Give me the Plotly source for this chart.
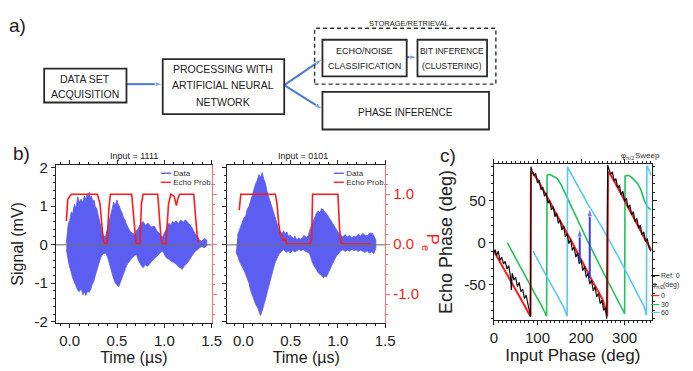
import plotly.graph_objects as go

W, H = 693, 371

# ---------------- panel b, left: Input = 1111 ----------------
# (time in µs, signal in mV) along the top and bottom edges of the recorded trace
sig1_upper = [
    (-0.035, 0.05), (-0.025, 0.35), (-0.015, 0.55), (0.0, 0.62), (0.017, 0.85), (0.03, 0.78),
    (0.05, 1.05), (0.065, 0.95), (0.086, 1.24), (0.10, 1.10), (0.12, 1.18), (0.135, 1.08),
    (0.155, 1.26), (0.17, 1.18), (0.185, 1.32), (0.195, 1.22), (0.207, 1.36), (0.22, 1.20),
    (0.23, 1.26), (0.245, 1.12), (0.258, 1.16), (0.27, 0.98), (0.285, 0.95), (0.30, 0.78),
    (0.31, 0.66), (0.325, 0.50), (0.344, 0.32), (0.36, 0.22), (0.379, 0.20), (0.395, 0.38),
    (0.413, 0.55), (0.425, 0.70), (0.44, 0.88), (0.452, 0.95), (0.465, 1.10), (0.48, 1.02),
    (0.50, 1.16), (0.512, 1.05), (0.525, 1.00), (0.538, 0.90), (0.551, 0.84), (0.568, 0.70),
    (0.585, 0.64), (0.60, 0.52), (0.62, 0.42), (0.64, 0.34), (0.66, 0.30), (0.689, 0.26),
    (0.705, 0.36), (0.724, 0.42), (0.745, 0.52), (0.775, 0.60), (0.80, 0.50), (0.827, 0.56),
    (0.86, 0.46), (0.896, 0.48), (0.92, 0.36), (0.948, 0.30), (0.965, 0.22), (0.982, 0.20),
    (1.00, 0.30), (1.017, 0.40), (1.034, 0.46), (1.05, 0.56), (1.07, 0.50), (1.085, 0.60),
    (1.103, 0.56), (1.125, 0.62), (1.15, 0.55), (1.172, 0.64), (1.20, 0.58), (1.22, 0.64),
    (1.24, 0.60), (1.265, 0.52), (1.293, 0.44), (1.32, 0.30), (1.345, 0.20), (1.37, 0.12),
    (1.396, 0.08), (1.42, 0.16), (1.448, 0.12),
]
sig1_lower = [
    (-0.035, -0.12), (-0.02, -0.35), (0.0, -0.59), (0.015, -0.70), (0.03, -0.85), (0.052, -1.00),
    (0.07, -1.10), (0.085, -1.18), (0.103, -1.22), (0.12, -1.14), (0.14, -1.30), (0.155, -1.22),
    (0.172, -1.32), (0.19, -1.20), (0.205, -1.24), (0.224, -1.15), (0.24, -1.02), (0.255, -0.95),
    (0.276, -0.76), (0.29, -0.60), (0.305, -0.50), (0.327, -0.34), (0.35, -0.24), (0.379, -0.22),
    (0.40, -0.32), (0.415, -0.44), (0.43, -0.55), (0.445, -0.72), (0.46, -0.85), (0.482, -1.00),
    (0.50, -1.04), (0.517, -1.10), (0.535, -0.95), (0.55, -0.88), (0.568, -0.76), (0.59, -0.62),
    (0.61, -0.50), (0.637, -0.42), (0.66, -0.34), (0.685, -0.28), (0.706, -0.26), (0.725, -0.40),
    (0.75, -0.52), (0.775, -0.60), (0.80, -0.52), (0.825, -0.56), (0.844, -0.50), (0.87, -0.42),
    (0.89, -0.38), (0.913, -0.34), (0.94, -0.26), (0.96, -0.20), (0.982, -0.17), (1.00, -0.26),
    (1.02, -0.34), (1.051, -0.38), (1.075, -0.44), (1.10, -0.46), (1.12, -0.50), (1.145, -0.56),
    (1.165, -0.60), (1.189, -0.64), (1.21, -0.55), (1.235, -0.50), (1.258, -0.42), (1.28, -0.32),
    (1.305, -0.24), (1.327, -0.17), (1.35, -0.12), (1.375, -0.08), (1.396, -0.05), (1.42, -0.08),
    (1.448, -0.03),
]
t1_pe = [-0.035, -0.02, 0.017, 0.293, 0.32, 0.337, 0.355, 0.379, 0.396, 0.413, 0.43, 0.655, 0.679,
         0.7, 0.724, 0.741, 0.758, 0.775, 0.93, 0.948, 0.965, 0.982, 1.017, 1.044, 1.068, 1.103,
         1.127, 1.144, 1.161, 1.31, 1.327, 1.345, 1.362]
pe1 = [0.46, 0.90, 1.00, 1.00, 0.81, 0.42, 0.06, 0.00, 0.03, 0.68, 1.00, 1.00, 0.42,
       0.03, 0.00, 0.00, 0.80, 1.00, 1.00, 0.62, 0.10, 0.00, 0.01, 0.80, 1.00, 0.96,
       0.77, 0.92, 1.00, 1.00, 0.68, 0.20, 0.04]

# ---------------- panel b, right: Input = 0101 ----------------
sig2_upper = [
    (-0.063, 0.24), (-0.045, 0.36), (-0.028, 0.49), (-0.01, 0.56), (0.005, 0.70), (0.024, 0.74),
    (0.04, 0.92), (0.06, 1.00), (0.077, 1.16), (0.095, 1.28), (0.112, 1.42), (0.129, 1.58),
    (0.145, 1.66), (0.164, 1.82), (0.18, 1.74), (0.199, 1.87), (0.215, 1.70), (0.234, 1.58),
    (0.25, 1.38), (0.268, 1.24), (0.285, 1.08), (0.30, 0.98), (0.32, 0.83), (0.34, 0.66),
    (0.355, 0.52), (0.373, 0.41), (0.39, 0.34), (0.408, 0.29), (0.425, 0.36), (0.44, 0.26),
    (0.46, 0.33), (0.475, 0.22), (0.49, 0.25), (0.512, 0.20), (0.53, 0.16), (0.545, 0.22),
    (0.565, 0.12), (0.585, 0.18), (0.60, 0.14), (0.617, 0.16), (0.64, 0.24), (0.665, 0.18),
    (0.687, 0.24), (0.705, 0.40), (0.72, 0.50), (0.739, 0.62), (0.755, 0.70), (0.77, 0.80),
    (0.791, 0.87), (0.81, 0.82), (0.825, 0.93), (0.844, 0.91), (0.86, 0.84), (0.88, 0.80),
    (0.896, 0.74), (0.915, 0.66), (0.93, 0.60), (0.948, 0.54), (0.965, 0.44), (0.983, 0.38),
    (1.0, 0.33), (1.02, 0.26), (1.035, 0.22), (1.053, 0.20), (1.075, 0.26), (1.10, 0.20),
    (1.123, 0.24), (1.145, 0.18), (1.17, 0.22), (1.192, 0.20), (1.215, 0.27), (1.24, 0.22),
    (1.262, 0.29), (1.29, 0.24), (1.315, 0.24), (1.34, 0.30), (1.367, 0.29), (1.385, 0.20),
    (1.402, 0.12),
]
sig2_lower = [
    (-0.08, -0.20), (-0.06, -0.30), (-0.045, -0.42), (-0.02, -0.55), (0.007, -0.67), (0.025, -0.78),
    (0.04, -0.90), (0.059, -1.00), (0.075, -1.18), (0.09, -1.28), (0.112, -1.42), (0.13, -1.55),
    (0.147, -1.62), (0.164, -1.71), (0.181, -1.84), (0.20, -1.70), (0.216, -1.59), (0.235, -1.40),
    (0.25, -1.25), (0.268, -1.09), (0.285, -0.90), (0.30, -0.76), (0.32, -0.59), (0.34, -0.44),
    (0.355, -0.34), (0.373, -0.26), (0.40, -0.18), (0.425, -0.13), (0.45, -0.20), (0.475, -0.16),
    (0.495, -0.22), (0.52, -0.15), (0.545, -0.19), (0.565, -0.17), (0.59, -0.12), (0.61, -0.16),
    (0.635, -0.13), (0.66, -0.18), (0.685, -0.20), (0.704, -0.26), (0.72, -0.40), (0.74, -0.52),
    (0.756, -0.59), (0.775, -0.66), (0.795, -0.74), (0.81, -0.78), (0.826, -0.80), (0.845, -0.86),
    (0.86, -0.82), (0.878, -0.84), (0.895, -0.74), (0.91, -0.68), (0.931, -0.59), (0.95, -0.46),
    (0.965, -0.38), (0.983, -0.30), (1.005, -0.22), (1.03, -0.16), (1.053, -0.13), (1.08, -0.18),
    (1.10, -0.14), (1.123, -0.17), (1.15, -0.12), (1.17, -0.16), (1.192, -0.13), (1.215, -0.18),
    (1.24, -0.14), (1.262, -0.17), (1.285, -0.20), (1.31, -0.16), (1.332, -0.22), (1.36, -0.18),
    (1.38, -0.24), (1.402, -0.09),
]
t2_pe = [-0.045, -0.028, 0.338, 0.355, 0.373, 0.39, 0.408, 0.425, 0.443, 0.46, 0.704, 0.722,
         0.732, 1.0, 1.018, 1.035, 1.05, 1.349]
pe2 = [0.68, 1.00, 1.00, 0.81, 0.42, 0.20, 0.14, 0.07, 0.10, 0.00, 0.00, 0.10,
       1.00, 1.00, 0.29, 0.03, 0.00, 0.00]

# ---------------- panel c: echo phase vs input phase ----------------
phase_ref = [0, 3, 6, 10, 14, 18, 22, 26, 30, 34, 38, 40, 42, 46, 50, 54, 58, 62, 66, 70, 74, 78, 81, 84,
             85, 88, 92, 96, 100, 104, 108, 112, 116, 120, 124, 128, 132, 136, 140, 144, 148, 152,
             156, 160, 164, 168, 172, 176, 180, 184, 188, 192, 196, 200, 204, 208, 212, 216, 220,
             224, 228, 232, 236, 240, 244, 248, 252, 256, 259,
             261, 264, 268, 272, 276, 280, 284, 288, 292, 296, 300, 304, 308, 312, 316, 320, 324,
             328, 332, 336, 340, 344, 348, 352, 356, 360]
echo_ref = [-12, -8, -15, -10, -21, -17, -25, -22, -31, -27, -40, -56, -36, -44, -41, -52, -47, -58, -55, -66, -62, -75, -80, -88,
            90, 85, 80, 82, 71, 74, 63, 66, 55, 59, 47, 50, 39, 43, 31, 35, 23, 27,
            15, 20, 7, 11, -1, 4, -9, -5, -17, -12, -25, -20, -33, -28, -41, -36, -49,
            -44, -57, -52, -64, -60, -72, -68, -80, -77, -90,
            92, 88, 81, 84, 73, 76, 65, 68, 57, 61, 49, 53, 41, 45, 33, 37, 25,
            29, 17, 21, 9, 13, 1, 5, -6, -10]
phase_0 = [0, 10, 20, 30, 40, 50, 60, 70, 78, 84, 85, 90, 100, 110, 120, 130, 140, 150, 160, 170,
           180, 190, 200, 210, 220, 230, 240, 250, 256, 260, 262, 266, 275, 285, 295, 305, 315, 325,
           335, 345, 355, 362]
echo_0 = [-10, -19, -28, -38, -47, -56, -65, -74, -82, -87, 84, 82, 75, 66, 56, 47, 37, 28, 19, 10,
          0, -10, -20, -30, -40, -49, -58, -68, -78, -87, 84, 82, 74, 65, 55, 45, 35, 25,
          15, 6, -3, -9]
phase_30 = [31, 40, 50, 60, 70, 80, 90, 100, 110, 121, 122, 127, 135, 146, 155, 165, 175, 185, 195,
            205, 215, 225, 235, 245, 258, 270, 281, 290, 300, 301, 308, 315, 322, 330, 338, 345, 352, 360]
echo_30 = [0, -9, -18, -28, -37, -47, -56, -66, -75, -87, 80, 81, 79, 76, 68, 57, 45, 33, 22,
           11, 2, -8, -19, -29, -42, -54, -65, -74, -84, 79, 80, 78, 74, 70, 62, 50, 43, 39]
phase_60 = [90, 100, 110, 120, 130, 140, 150, 160, 168, 169, 175, 185, 195, 205, 215, 225, 235, 245,
            255, 265, 275, 285, 295, 305, 315, 325, 335, 345, 350, 351, 356, 361]
echo_60 = [-10, -20, -29, -39, -48, -57, -66, -76, -87, 90, 84, 74, 65, 56, 46, 38, 30, 21,
           12, 3, -7, -16, -26, -36, -46, -56, -66, -76, -86, 91, 86, 80]
arrow_phase = [197, 220]
arrow_from = [-23, -42]
arrow_to = [17, 41]

# tick labels
time_ticks = [0, 0.5, 1.0, 1.5]
time_ticktext = ["0.0", "0.5", "1.0", "1.5"]
signal_ticks = [-2, -1, 0, 1, 2]
signal_ticktext = ["-2", "-1", "0", "1", "2"]
pe_ticks = [-1, 0, 1]
pe_ticktext = ["-1.0", "0.0", "1.0"]
phase_ticks = [0, 100, 200, 300]
phase_ticktext = ["0", "100", "200", "300"]
echo_ticks = [-50, 0, 50]
echo_ticktext = ["-50", "0", "50"]

# flow diagram: box captions, one entry per text line
box_texts = [
    ["DATA SET", "ACQUISITION"],
    ["PROCESSING WITH", "ARTIFICIAL NEURAL", "NETWORK"],
    ["ECHO/NOISE", "CLASSIFICATION"],
    ["BIT INFERENCE", "(CLUSTERING)"],
    ["PHASE INFERENCE"],
]
group_label = "STORAGE/RETRIEVAL"

BLUE = "#5b5ef0"
RED = "#ff1a1a"
GREEN = "#22c15a"
LIGHTBLUE = "#5cc6f2"
ARROW = "#4a7bd0"
FONT = "Liberation Sans, Arial, sans-serif"


def px(x):
    return x / W


def py(y):
    return 1 - y / H


fig = go.Figure()

# blue signal bands and red echo probability
for upper, lower, t_pe, pe, xa, ya, ya2 in [
    (sig1_upper, sig1_lower, t1_pe, pe1, "x", "y", "y2"),
    (sig2_upper, sig2_lower, t2_pe, pe2, "x2", "y3", "y4"),
]:
    band = upper + lower[::-1]
    fig.add_trace(go.Scatter(
        x=[p[0] for p in band], y=[p[1] for p in band], fill="toself", mode="lines",
        line=dict(color=BLUE, width=0.8), fillcolor=BLUE, name="Data",
        xaxis=xa, yaxis=ya))
    fig.add_trace(go.Scatter(
        x=t_pe, y=pe, mode="lines", line=dict(color=RED, width=1.6),
        name="Echo Prob.", xaxis=xa, yaxis=ya2))

# phase sweep curves
for xs, ys, col, w, nm in [
    (phase_30, echo_30, GREEN, 1.6, "30"),
    (phase_60, echo_60, LIGHTBLUE, 1.6, "60"),
    (phase_0, echo_0, RED, 2.0, "0"),
    (phase_ref, echo_ref, "#111111", 1.2, "Ref. 0"),
]:
    fig.add_trace(go.Scatter(x=xs, y=ys, mode="lines", line=dict(color=col, width=w),
                             name=nm, xaxis="x3", yaxis="y5"))

# phase-shift arrows in panel c
for xa, y0, y1 in zip(arrow_phase, arrow_from, arrow_to):
    fig.add_trace(go.Scatter(x=[xa, xa], y=[y0, y1], mode="lines+markers",
                             line=dict(color="#3a3af5", width=2),
                             marker=dict(symbol="arrow", angleref="previous", size=[0, 9],
                                         color="#3a3af5"),
                             xaxis="x3", yaxis="y5", hoverinfo="skip"))

# flow-diagram arrows, drawn on a hidden pixel-scaled overlay
flow_arrows = [((125, 81), (162, 81)), ((286, 82), (325, 55)),
               ((286, 82), (325, 107)), ((411, 53), (422, 53))]
for (tx, ty), (hx, hy) in flow_arrows:
    fig.add_trace(go.Scatter(x=[tx, hx], y=[ty, hy], mode="lines+markers",
                             line=dict(color=ARROW, width=2),
                             marker=dict(symbol="arrow", angleref="previous", size=[0, 8],
                                         color=ARROW),
                             xaxis="x4", yaxis="y6", hoverinfo="skip", cliponaxis=False))

minor_x = dict(ticks="outside", ticklen=2, tickcolor="#222")


def base_axis(**kw):
    d = dict(showline=True, linecolor="#222", linewidth=1, ticks="outside", ticklen=4,
             tickcolor="#222", showgrid=False, zeroline=False,
             tickfont=dict(family=FONT, size=15, color="#222"))
    d.update(kw)
    return d


by0, by1 = py(328), py(165)
layout = dict(
    width=W, height=H, margin=dict(l=0, r=0, t=0, b=0), autosize=False,
    paper_bgcolor="white", plot_bgcolor="rgba(0,0,0,0)", showlegend=False,
    font=dict(family=FONT, color="#222"),
    xaxis=base_axis(domain=[px(53), px(212)], anchor="y", range=[-0.145, 1.5],
                    tickvals=time_ticks, ticktext=time_ticktext, mirror="ticks",
                    minor=dict(dtick=0.1, **minor_x),
                    title=dict(text="Time (µs)", font=dict(size=16), standoff=4)),
    yaxis=base_axis(domain=[by0, by1], anchor="x", range=[-2.02, 2.06],
                    tickvals=signal_ticks, ticktext=signal_ticktext,
                    minor=dict(dtick=0.2, **minor_x),
                    title=dict(text="Signal (mV)", font=dict(size=16), standoff=6)),
    yaxis2=base_axis(overlaying="y", side="right", anchor="x", range=[-1.57, 1.58],
                     linecolor="#ff7070", tickcolor="#ff7070", showticklabels=False,
                     tickvals=pe_ticks, minor=dict(dtick=0.2, ticks="outside", ticklen=2,
                                                   tickcolor="#ff7070")),
    xaxis2=base_axis(domain=[px(228), px(389)], anchor="y3", range=[-0.17, 1.5],
                     tickvals=time_ticks, ticktext=time_ticktext, mirror="ticks",
                     minor=dict(dtick=0.1, **minor_x),
                     title=dict(text="Time (µs)", font=dict(size=16), standoff=4)),
    yaxis3=base_axis(domain=[by0, by1], anchor="x2", range=[-2.02, 2.06],
                     tickvals=signal_ticks, showticklabels=False,
                     minor=dict(dtick=0.2, **minor_x)),
    yaxis4=base_axis(overlaying="y3", side="right", anchor="x2", range=[-1.57, 1.58],
                     linecolor="#ff7070", tickcolor="#ff7070",
                     tickvals=pe_ticks, ticktext=pe_ticktext,
                     tickfont=dict(family=FONT, size=15, color=RED),
                     minor=dict(dtick=0.2, ticks="outside", ticklen=2, tickcolor="#ff7070")),
    xaxis3=base_axis(domain=[px(500), px(661)], anchor="y5", range=[0, 362],
                     tickvals=phase_ticks, ticktext=phase_ticktext, mirror="ticks",
                     minor=dict(dtick=10, **minor_x),
                     title=dict(text="Input Phase (deg)", font=dict(size=17), standoff=2)),
    yaxis5=base_axis(domain=[py(325), py(164)], anchor="x3", range=[-91, 93],
                     tickvals=echo_ticks, ticktext=echo_ticktext, mirror="ticks",
                     minor=dict(dtick=10, **minor_x),
                     title=dict(text="Echo Phase (deg)", font=dict(size=18), standoff=6)),
    xaxis4=dict(domain=[0, 1], anchor="y6", range=[0, W], visible=False, fixedrange=True),
    yaxis6=dict(domain=[py(140), 1], anchor="x4", range=[140, 0], visible=False, fixedrange=True),
)
fig.update_layout(**layout)

shapes = []
annotations = []


def label(text, x, y, size, color="#222", xanchor="center", angle=0):
    annotations.append(dict(text=text, x=px(x), y=py(y), xref="paper", yref="paper",
                            showarrow=False, xanchor=xanchor, yanchor="middle",
                            textangle=angle, font=dict(family=FONT, size=size, color=color)))


# zero reference lines in panel b
for xa, ya in [("x", "y"), ("x2", "y3")]:
    shapes.append(dict(type="line", xref=f"{xa} domain", yref=ya, x0=0, x1=1, y0=0, y1=0,
                       line=dict(color="rgba(110,110,110,0.7)", width=1.5), layer="above"))

# ---------------- panel a: flow diagram boxes ----------------
box_geom = [
    ((41, 65, 125, 100), [76, 91], 10.5),
    ((162, 55, 286, 112), [65, 82, 99], 10.5),
    ((325, 35, 411, 73), [47, 62], 9),
    ((422, 35, 493, 73), [47, 62], 8.4),
    ((325, 89, 495, 128), [110], 10),
]
for lines, ((x0, y0, x1, y1), ys, fs) in zip(box_texts, box_geom):
    shapes.append(dict(type="rect", xref="paper", yref="paper", x0=px(x0), x1=px(x1),
                       y0=py(y1), y1=py(y0), line=dict(color="#2a2a2a", width=1.8)))
    for txt, yy in zip(lines, ys):
        label(txt, (x0 + x1) / 2, yy, fs)
shapes.append(dict(type="rect", xref="paper", yref="paper", x0=px(317), x1=px(502),
                   y0=py(81), y1=py(23), line=dict(color="#333", width=1.4, dash="4px,3px")))
label(group_label, 413, 18, 7.5)

# panel letters
label("a)", 14, 20, 19)
label("b)", 18, 153, 19)
label("c)", 453, 155, 19)

# panel b titles
label("Input = 1111", 133, 155, 9)
label("Input = 0101", 305, 155, 9)

# right axis title P_e (rotated, subscript set apart)
label("P", 437, 241, 17, RED, angle=90)
label("e", 430, 251, 11, RED, angle=90)

# panel b legends
for x0 in [157, 334]:
    for i, (nm, col) in enumerate([("Data", BLUE), ("Echo Prob.", RED)]):
        label(f'<span style="color:{col}">━━</span> {nm}', x0, 174 + 8.5 * i, 8, "#333",
              xanchor="left")

# panel c header: phi_(pi/2) Sweep
label("φ", 628, 155, 8, "#333", xanchor="left")
label("π/2", 633, 157.5, 5.5, "#333", xanchor="left")
label("Sweep", 642, 155, 8, "#333", xanchor="left")

# panel c legend
legend_c = [("Ref. 0", "#111111", 279), ("0", RED, 300), ("30", GREEN, 309), ("60", LIGHTBLUE, 318)]
for nm, col, y in legend_c:
    label(f'<span style="color:{col}">━━</span> {nm}', 657, y, 7, "#333", xanchor="left")
label("φ", 659, 289, 7, "#333", xanchor="left")
label("π/2", 663, 291, 5, "#333", xanchor="left")
label("(deg)", 671, 289, 7, "#333", xanchor="left")

fig.update_layout(shapes=shapes, annotations=annotations)
fig.write_html("out.html")
